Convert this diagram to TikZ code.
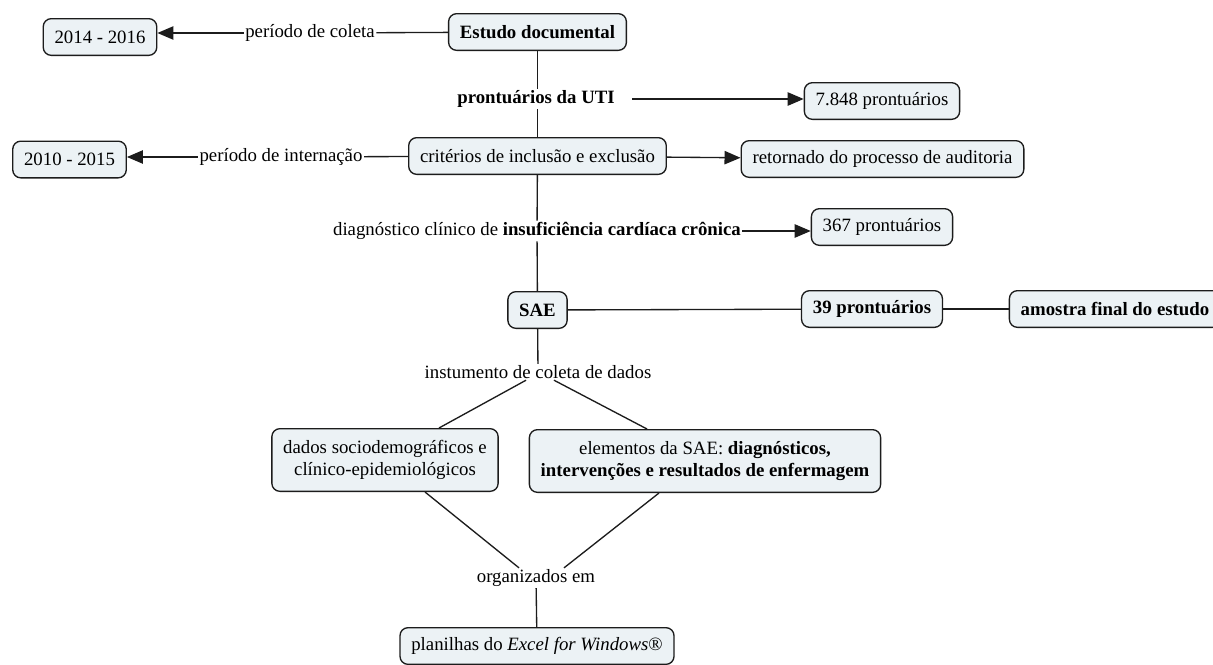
\documentclass[tikz,border=0pt]{standalone}
\usepackage{fontspec}
\setmainfont{Liberation Serif}
\usepackage{xcolor}
\usepackage{tikz}
\usetikzlibrary{arrows.meta, calc}

\definecolor{boxfill}{RGB}{236,242,245}
\definecolor{inkgray}{RGB}{28,28,28}

\begin{document}
\begin{tikzpicture}[
        x=0.75pt, y=-0.75pt,
        box/.style={
            rectangle,
            draw=inkgray,
            line width=1pt,
            fill=boxfill,
            rounded corners=6pt,
            align=center,
            inner xsep=8.5pt,
            inner ysep=6pt,
            minimum height=27.5pt,
            font=\fontsize{14.1pt}{16.5pt}\selectfont
        },
        linktext/.style={
            inner sep=1pt,
            align=center,
            font=\fontsize{14.1pt}{16.5pt}\selectfont
        },
        line/.style={
            draw,
            line width=1pt,
            inkgray
        },
        linkarrow/.style={
            line,
            -{Triangle[length=12pt,width=10pt]}
        }
    ]
        \path[use as bounding box, fill=white] (0,0) rectangle (1213,664);

        % Nodes
        \node [box] (estudo) at (537.5,32) {\textbf{Estudo documental}};
        \node [box] (anos1416) at (100,37) {2014 - 2016};
        \node [linktext] (coleta) at (310,33) {período de coleta};
        \node [linktext] (uti) at (536,99) {\textbf{prontuários da UTI}};
        \node [box] (p7848) at (882,101) {7.848 prontuários};
        \node [box] (criterios) at (537.5,156) {critérios de inclusão e exclusão};
        \node [box] (anos1015) at (69.5,159.5) {2010 - 2015};
        \node [linktext] (internacao) at (281,157) {período de internação};
        \node [box] (retorno) at (882.5,159) {retornado do processo de auditoria};
        \node [linktext] (diag) at (537,231) {diagnóstico clínico de \textbf{insuficiência cardíaca crônica}};
        \node [box] (p367) at (882,227) {367 prontuários};
        \node [box] (sae) at (537.5,310) {\textbf{SAE}};
        \node [box] (p39) at (872,309) {\textbf{39 prontuários}};
        \node [box] (amostra) at (1115,309) {\textbf{amostra final do estudo}};
        \node [linktext] (instr) at (538,372) {instumento de coleta de dados};
        \node [box, minimum height=47pt] (dados) at (385,460) {dados sociodemográficos e\\clínico-epidemiológicos};
        \node [box, minimum height=47pt] (elem) at (705,461) {elementos da SAE: \textbf{diagnósticos,}\\\textbf{intervenções e resultados de enfermagem}};
        \node [linktext] (org) at (536,578) {organizados em};
        \node [box] (planilhas) at (537,646) {planilhas do \textit{Excel for Windows}®};

        % Edges
        \draw [line] (estudo) -- (coleta);
        \draw [linkarrow] (coleta) -- (coleta -| anos1416.east);
        \draw [line] (estudo) -- (estudo |- uti.north);
        \draw [linkarrow] ($(uti.east)+(16,0)$) -- (uti.east -| p7848.west);
        \draw [line] (estudo |- uti.south) -- (criterios);
        \draw [line] (criterios) -- (internacao);
        \draw [linkarrow] (internacao) -- (internacao -| anos1015.east);
        \draw [linkarrow] (criterios) -- (retorno);
        \draw [line] (criterios) -- (diag);
        \draw [linkarrow] (diag) -- (diag -| p367.west);
        \draw [line] (diag) -- (sae);
        \draw [line] (sae) -- (p39);
        \draw [line] (p39) -- (amostra);
        \draw [line] (sae) -- (instr);
        \draw [line] ($(instr.south)+(-12,0)$) -- ($(dados.north)+(54,0)$);
        \draw [line] ($(instr.south)+(16,0)$) -- ($(elem.north)+(-58,0)$);
        \draw [line] ($(dados.south)+(40,0)$) -- ($(org.north)+(-17,0)$);
        \draw [line] ($(elem.south)+(-46,0)$) -- ($(org.north)+(28,0)$);
        \draw [line] (org) -- (planilhas);

    \end{tikzpicture}
\end{document}
